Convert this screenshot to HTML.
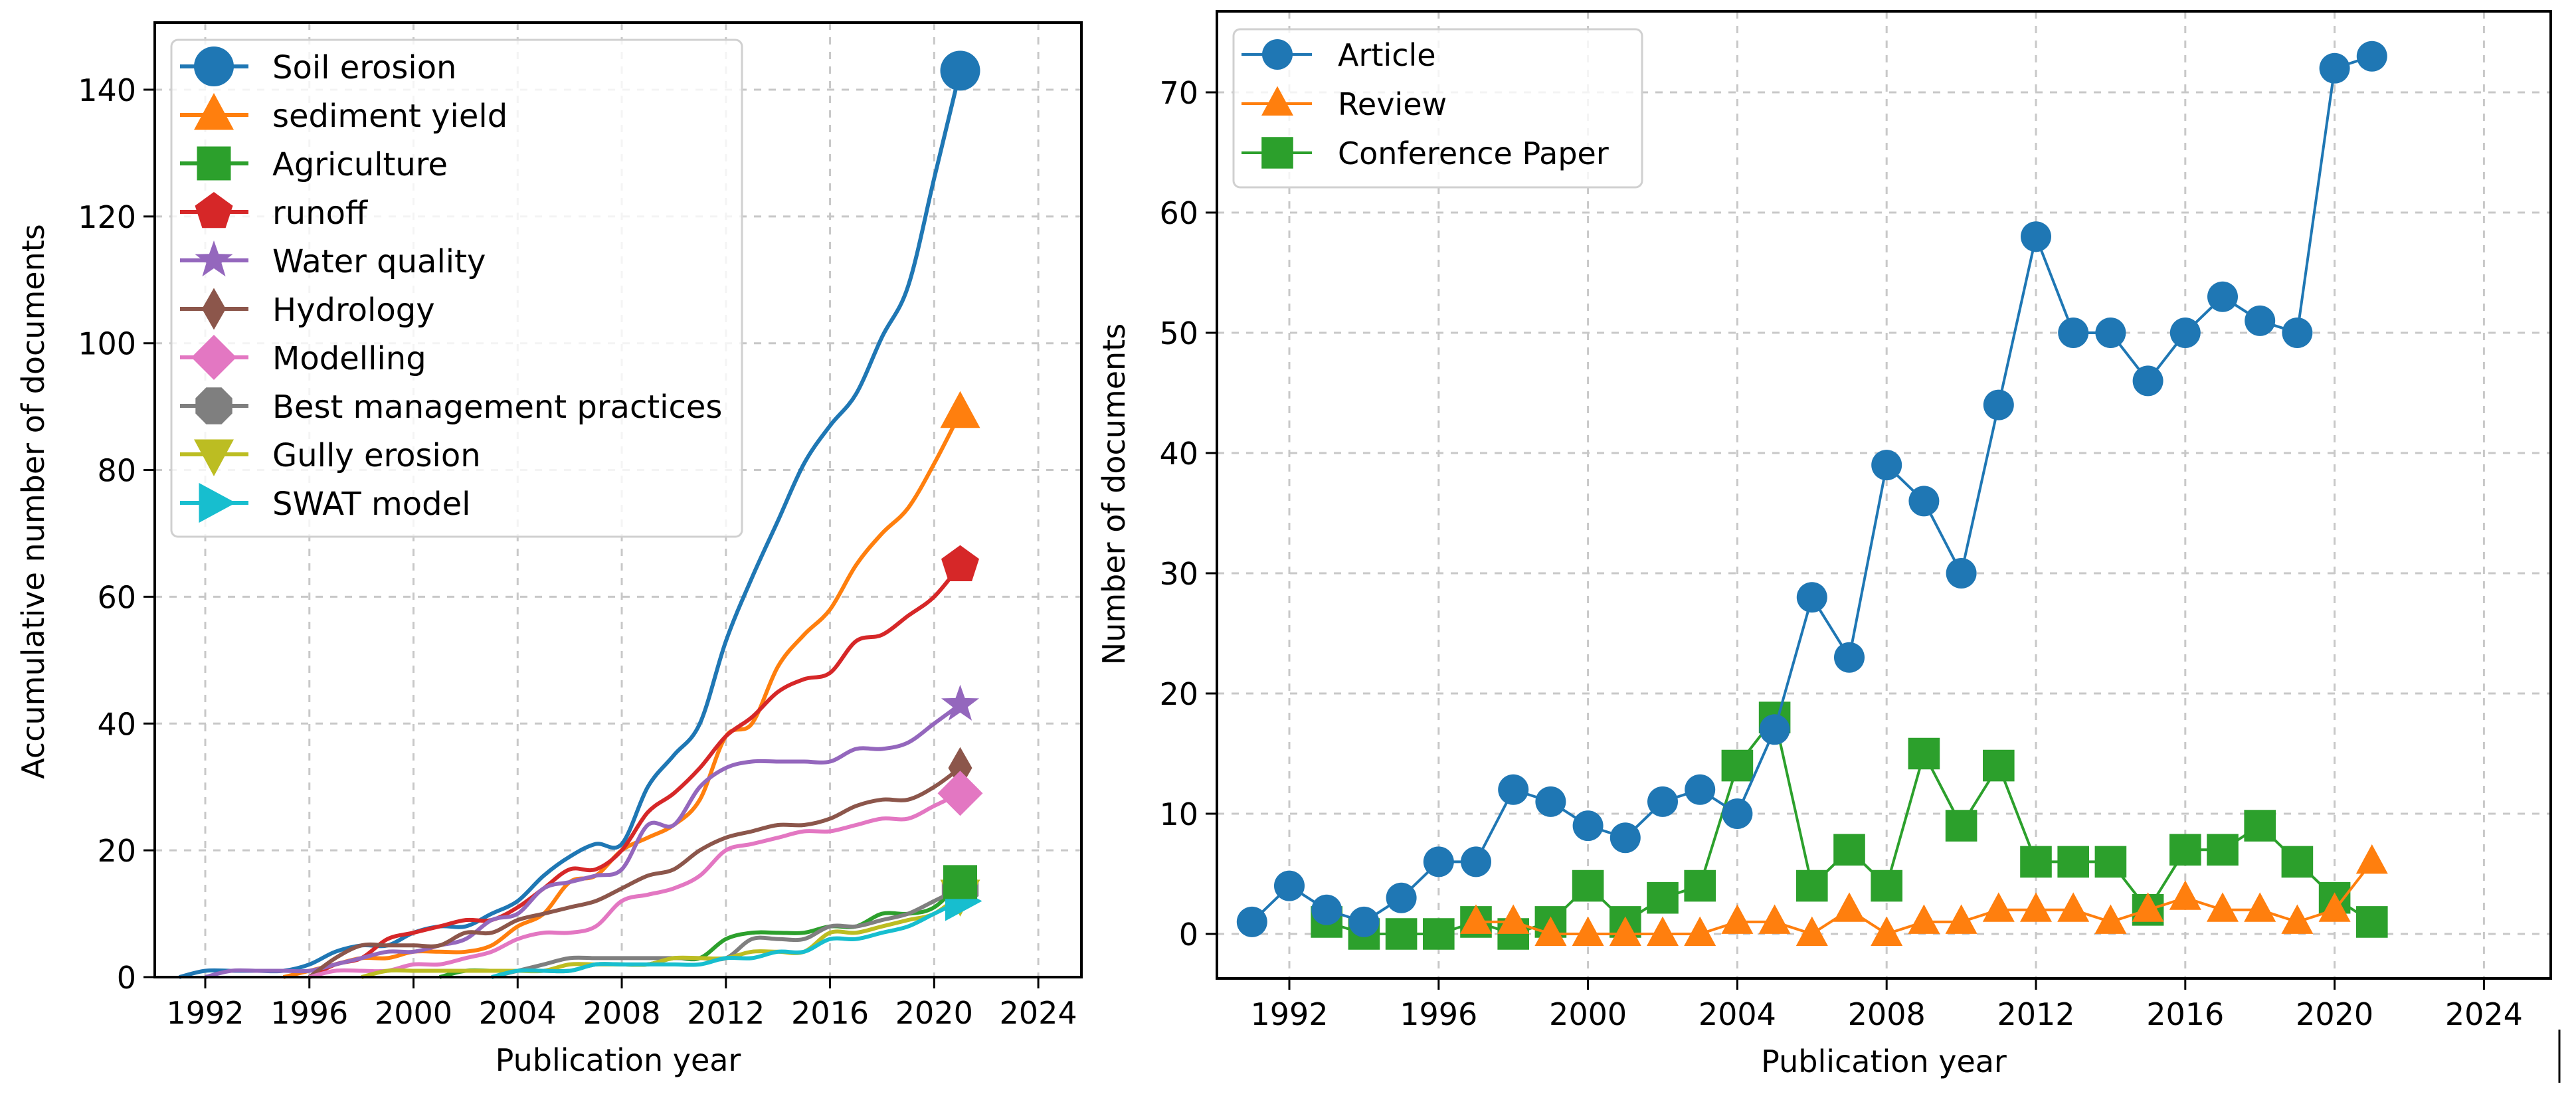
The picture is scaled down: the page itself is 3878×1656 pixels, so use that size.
<!DOCTYPE html>
<html><head><meta charset="utf-8"><style>
html,body{margin:0;padding:0;background:#fff;}
svg{display:block;font-family:"DejaVu Sans","Liberation Sans",sans-serif;}
</style></head><body>
<svg id="root" width="3878" height="1656" viewBox="0 0 3878 1656" xmlns="http://www.w3.org/2000/svg">
<rect width="3878" height="1656" fill="#fff"/>
<line x1="3853" y1="1550" x2="3853" y2="1630" stroke="#000" stroke-width="3"/>
</svg>
<script>
// ---------- Left chart data (cumulative) ----------
const leftNames = ["Soil erosion","sediment yield","Agriculture","runoff","Water quality","Hydrology","Modelling","Best management practices","Gully erosion","SWAT model"];
const leftColors = ["#1f77b4","#ff7f0e","#2ca02c","#d62728","#9467bd","#8c564b","#e377c2","#7f7f7f","#bcbd22","#17becf"];
const leftMarkers = ["circle","triUp","square","pentagon","star","diamond","diamondBig","octagon","triDown","triRight"];
const leftStart = [1991,1995,2001,1996,1992,1996,1996,2003,1998,2003];
const soilErosion = [0,1,1,1,1,2,4,5,5,7,8,8,10,12,16,19,21,21,30,35,40,53,63,72,81,87,92,101,109,126,143];
const sedimentYield = [0,1,2,3,3,4,4,4,5,8,10,15,16,20,22,24,28,38,40,49,54,58,65,70,74,81,89];
const agriculture = [0,1,1,1,1,1,2,2,2,3,3,6,7,7,7,8,8,10,10,11,15];
const runoff = [0,2,3,6,7,8,9,9,11,14,17,17,20,26,29,33,38,41,45,47,48,53,54,57,60,65];
const waterQuality = [0,1,1,1,1,2,3,4,4,5,6,9,10,14,15,16,17,24,24,30,33,34,34,34,34,36,36,37,40,43];
const hydrology = [0,3,5,5,5,5,7,7,9,10,11,12,14,16,17,20,22,23,24,24,25,27,28,28,30,33];
const modelling = [0,1,1,1,2,2,3,4,6,7,7,8,12,13,14,16,20,21,22,23,23,24,25,25,27,29];
const bmp = [0,1,2,3,3,3,3,3,3,3,6,6,6,8,8,9,10,12,14];
const gully = [0,1,1,1,1,1,1,1,2,2,2,2,3,3,3,4,4,4,7,7,8,9,10,13];
const swat = [0,1,1,1,2,2,2,2,2,3,3,4,4,6,6,7,8,10,12];
const leftSeries = [soilErosion,sedimentYield,agriculture,runoff,waterQuality,hydrology,modelling,bmp,gully,swat];
const leftYTicks = [0,20,40,60,80,100,120,140];
const xTicks = [1992,1996,2000,2004,2008,2012,2016,2020,2024];

// ---------- Right chart data ----------
const rightYears = [1991,1992,1993,1994,1995,1996,1997,1998,1999,2000,2001,2002,2003,2004,2005,2006,2007,2008,2009,2010,2011,2012,2013,2014,2015,2016,2017,2018,2019,2020,2021];
const articleVals = [1,4,2,1,3,6,6,12,11,9,8,11,12,10,17,28,23,39,36,30,44,58,50,50,46,50,53,51,50,72,73];
const reviewStart = 1997;
const reviewVals = [1,1,0,0,0,0,0,1,1,0,2,0,1,1,2,2,2,1,2,3,2,2,1,2,6];
const confStart = 1993;
const confVals = [1,0,0,0,1,0,1,4,1,3,4,14,18,4,7,4,15,9,14,6,6,6,2,7,7,9,6,3,1];
const rightYTicks = [0,10,20,30,40,50,60,70];

const NS="http://www.w3.org/2000/svg";
const root=document.getElementById('root');
function mk(tag,attrs,parent){const e=document.createElementNS(NS,tag);for(const k in attrs)e.setAttribute(k,attrs[k]);(parent||root).appendChild(e);return e;}

const L={x0:233,x1:1628,y0:34,y1:1471};
const lx=yr=>309+(yr-1992)*39.19;
const ly=v=>1471-v*9.543;
const R={x0:1832,x1:3840,y0:17,y1:1473};
const rx=yr=>1941+(yr-1992)*56.2;
const ry=v=>1406-v*18.1;

function markerPath(type,cx,cy,s){
  let pts=[];
  const poly=(n,rot,r)=>{const p=[];for(let i=0;i<n;i++){const a=rot+i*2*Math.PI/n;p.push([cx+r*Math.cos(a),cy+r*Math.sin(a)]);}return p;};
  switch(type){
    case "triUp": pts=[[cx,cy-s*1.1],[cx+s,cy+s*0.75],[cx-s,cy+s*0.75]];break;
    case "triDown": pts=[[cx,cy+s*1.1],[cx+s,cy-s*0.75],[cx-s,cy-s*0.75]];break;
    case "triRight": pts=[[cx+s*1.1,cy],[cx-s*0.75,cy-s],[cx-s*0.75,cy+s]];break;
    case "square": pts=[[cx-s*0.85,cy-s*0.85],[cx+s*0.85,cy-s*0.85],[cx+s*0.85,cy+s*0.85],[cx-s*0.85,cy+s*0.85]];break;
    case "pentagon": pts=poly(5,-Math.PI/2,s);break;
    case "octagon": pts=poly(8,Math.PI/8,s);break;
    case "diamond": pts=[[cx,cy-s*1.05],[cx+s*0.6,cy],[cx,cy+s*1.05],[cx-s*0.6,cy]];break;
    case "diamondBig": pts=[[cx,cy-s],[cx+s,cy],[cx,cy+s],[cx-s,cy]];break;
    case "star":{for(let i=0;i<10;i++){const r=i%2?s*0.4:s;const a=-Math.PI/2+i*Math.PI/5;pts.push([cx+r*Math.cos(a),cy+r*Math.sin(a)]);}break;}
  }
  return "M"+pts.map(p=>p[0].toFixed(1)+","+p[1].toFixed(1)).join("L")+"Z";
}
function drawMarker(type,cx,cy,s,color,parent,name){
  let e;
  if(type==="circle"){e=mk('circle',{cx:cx,cy:cy,r:s,fill:color},parent);}
  else{e=mk('path',{d:markerPath(type,cx,cy,s),fill:color},parent);}
  
  
  return e;
}
function smoothPath(pts){
  let d="M"+pts[0][0]+","+pts[0][1];
  for(let i=0;i<pts.length-1;i++){
    const p0=pts[i-1]||pts[i],p1=pts[i],p2=pts[i+1],p3=pts[i+2]||p2;
    const t=0.5/3;
    const c1=[p1[0]+(p2[0]-p0[0])*t,p1[1]+(p2[1]-p0[1])*t];
    const c2=[p2[0]-(p3[0]-p1[0])*t,p2[1]-(p3[1]-p1[1])*t];
    d+="C"+c1[0].toFixed(1)+","+c1[1].toFixed(1)+" "+c2[0].toFixed(1)+","+c2[1].toFixed(1)+" "+p2[0].toFixed(1)+","+p2[1].toFixed(1);
  }
  return d;
}
function text(str,x,y,size,anchor,parent,name,extra){
  const t=mk('text',Object.assign({x:x,y:y,'font-size':size,'text-anchor':anchor||'middle',fill:'#000'},extra||{}),parent);
  t.textContent=str;
  
  
  return t;
}

// ================= LEFT CHART =================
const gL=mk('g',{});


xTicks.forEach(t=>{const g=mk('line',{x1:lx(t),x2:lx(t),y1:L.y0,y2:L.y1,stroke:'#c8c8c8','stroke-width':3,'stroke-dasharray':'11,11'},gL);
  
  });
leftYTicks.forEach(t=>{const g=mk('line',{x1:L.x0,x2:L.x1,y1:ly(t),y2:ly(t),stroke:'#c8c8c8','stroke-width':3,'stroke-dasharray':'11,11'},gL);
  
  });
leftSeries.forEach((vals,i)=>{
  const pts=vals.map((v,j)=>[lx(leftStart[i]+j),ly(v)]);
  const p=mk('path',{d:smoothPath(pts),fill:'none',stroke:leftColors[i],'stroke-width':6,'stroke-linejoin':'round'},gL);
  
  
});
const markerOrder=[0,1,3,4,5,6,7,8,9,2];
markerOrder.forEach(i=>{
  const vals=leftSeries[i];
  const last=vals.length-1;
  drawMarker(leftMarkers[i],lx(leftStart[i]+last),ly(vals[last]),leftMarkers[i]==="diamondBig"?34:30,leftColors[i],gL,'end-marker-'+leftNames[i].toLowerCase().replace(/ /g,'-'));
});
const fL=mk('rect',{x:L.x0,y:L.y0,width:L.x1-L.x0,height:L.y1-L.y0,fill:'none',stroke:'#000','stroke-width':4},gL);


xTicks.forEach(t=>{mk('line',{x1:lx(t),x2:lx(t),y1:L.y1,y2:L.y1+17,stroke:'#000','stroke-width':3},gL);
  text(String(t),lx(t),L.y1+70,46,'middle',gL,'left-x-tick-label');});
leftYTicks.forEach(t=>{mk('line',{x1:L.x0-17,x2:L.x0,y1:ly(t),y2:ly(t),stroke:'#000','stroke-width':3},gL);
  text(String(t),L.x0-28,ly(t)+17,46,'end',gL,'left-y-tick-label');});
text("Publication year",(L.x0+L.x1)/2,1612,46,'middle',gL,'left-x-axis-title');
text("Accumulative number of documents",0,0,46,'middle',gL,'left-y-axis-title',{transform:'translate(66,755) rotate(-90)'});
const lg=mk('g',{},gL);


mk('rect',{x:258,y:60,width:859,height:748,rx:10,fill:'#fff','fill-opacity':0.8,stroke:'#d0d0d0','stroke-width':3},lg);
leftNames.forEach((n,i)=>{
  const y=100+i*73.0;
  mk('line',{x1:271,x2:374,y1:y,y2:y,stroke:leftColors[i],'stroke-width':6},lg);
  drawMarker(leftMarkers[i],322,y,leftMarkers[i]==="diamondBig"?34:30,leftColors[i],lg,'legend-marker');
  text(n,410,y+18,48,'start',lg,'legend-entry');
});

// ================= RIGHT CHART =================
const gR=mk('g',{});


xTicks.forEach(t=>{const g=mk('line',{x1:rx(t),x2:rx(t),y1:R.y0,y2:R.y1,stroke:'#c8c8c8','stroke-width':3,'stroke-dasharray':'11,11'},gR);
  
  });
rightYTicks.forEach(t=>{const g=mk('line',{x1:R.x0,x2:R.x1,y1:ry(t),y2:ry(t),stroke:'#c8c8c8','stroke-width':3,'stroke-dasharray':'11,11'},gR);
  
  });
function drawSeries(start,vals,color,type,name){
  const g=mk('g',{},gR);
  
  
  const pts=vals.map((v,j)=>[rx(start+j),ry(v)]);
  mk('polyline',{points:pts.map(p=>p.join(',')).join(' '),fill:'none',stroke:color,'stroke-width':4},g);
  pts.forEach(p=>drawMarker(type,p[0],p[1],type==="circle"?23:(type==="square"?28:24),color,g,name+'-point'));
}
drawSeries(confStart,confVals,"#2ca02c","square","conference-paper");
drawSeries(reviewStart,reviewVals,"#ff7f0e","triUp","review");
drawSeries(rightYears[0],articleVals,"#1f77b4","circle","article");
const fR=mk('rect',{x:R.x0,y:R.y0,width:R.x1-R.x0,height:R.y1-R.y0,fill:'none',stroke:'#000','stroke-width':4},gR);


xTicks.forEach(t=>{mk('line',{x1:rx(t),x2:rx(t),y1:R.y1,y2:R.y1+17,stroke:'#000','stroke-width':3},gR);
  text(String(t),rx(t),R.y1+70,46,'middle',gR,'right-x-tick-label');});
rightYTicks.forEach(t=>{mk('line',{x1:R.x0-17,x2:R.x0,y1:ry(t),y2:ry(t),stroke:'#000','stroke-width':3},gR);
  text(String(t),R.x0-28,ry(t)+17,46,'end',gR,'right-y-tick-label');});
text("Publication year",(R.x0+R.x1)/2,1614,46,'middle',gR,'right-x-axis-title');
text("Number of documents",0,0,46,'middle',gR,'right-y-axis-title',{transform:'translate(1693,744) rotate(-90)'});
const rg=mk('g',{},gR);


mk('rect',{x:1857,y:44,width:615,height:238,rx:10,fill:'#fff','fill-opacity':0.8,stroke:'#d0d0d0','stroke-width':3},rg);
const rNames=["Article","Review","Conference Paper"],rCols=["#1f77b4","#ff7f0e","#2ca02c"],rMk=["circle","triUp","square"];
rNames.forEach((n,i)=>{
  const y=82+i*74;
  mk('line',{x1:1869,x2:1975,y1:y,y2:y,stroke:rCols[i],'stroke-width':4},rg);
  drawMarker(rMk[i],1923,y,rMk[i]==="circle"?23:(rMk[i]==="square"?28:24),rCols[i],rg,'legend-marker');
  text(n,2014,y+17,46,'start',rg,'legend-entry');
});
</script>
</body></html>
